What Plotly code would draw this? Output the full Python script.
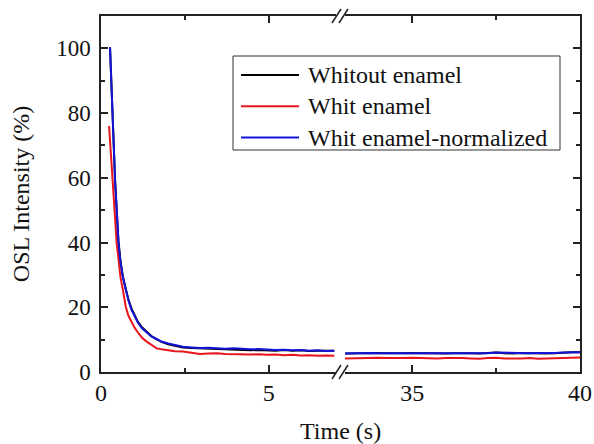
import plotly.graph_objects as go

# ---------------- data ----------------
t_early = [0.24, 0.27, 0.42, 0.47, 0.52, 0.58, 0.65, 0.74, 0.82, 0.91, 1.00, 1.10,
           1.22, 1.36, 1.50, 1.66, 1.80, 2.00, 2.20, 2.44, 2.70, 2.95, 3.20, 3.45,
           3.70, 3.95, 4.20, 4.45, 4.70, 4.95, 5.20, 5.45, 5.70, 5.95, 6.20, 6.45,
           6.70, 6.95]
without_early = [100, 100, 59, 49.5, 40.5, 34.3, 29.6, 25.6, 22.3, 19.6, 17.5, 15.5,
                 13.8, 12.3, 11.1, 10.1, 9.3, 8.6, 8.1, 7.6, 7.4, 7.3, 7.2, 7.0,
                 6.9, 6.8, 6.9, 6.7, 6.8, 6.7, 6.6, 6.8, 6.6, 6.7, 6.5, 6.6,
                 6.5, 6.6]
with_early = [76, 71, 45.5, 39.5, 35, 29.3, 25.5, 20.1, 17.3, 15.3, 13.7, 12.2,
              10.6, 9.4, 8.3, 7.3, 7.0, 6.6, 6.4, 6.3, 6.0, 5.6, 5.7, 5.8,
              5.6, 5.5, 5.6, 5.4, 5.5, 5.3, 5.4, 5.2, 5.3, 5.1, 5.2, 5.0,
              5.1, 5.0]
norm_early = [100, 100, 59, 49, 40, 34, 29.4, 25.4, 22, 19.2, 17.2, 15.2,
              13.5, 12.1, 11.0, 10.2, 9.4, 8.8, 8.3, 7.8, 7.6, 7.4, 7.5, 7.3,
              7.2, 7.3, 7.1, 7.0, 7.1, 6.9, 6.8, 6.9, 6.7, 6.8, 6.6, 6.7,
              6.5, 6.6]

t_late = [33.0, 33.25, 33.5, 33.75, 34.0, 34.25, 34.5, 34.75, 35.0, 35.25, 35.5,
          35.75, 36.0, 36.25, 36.5, 36.75, 37.0, 37.25, 37.5, 37.75, 38.0, 38.25,
          38.5, 38.75, 39.0, 39.25, 39.5, 39.75, 40.0]
without_late = [5.7, 5.8, 5.7, 5.8, 5.9, 5.8, 5.7, 5.8, 5.9, 5.8, 5.9, 5.8, 5.7,
                5.8, 5.9, 5.8, 5.7, 5.8, 6.0, 5.8, 5.7, 5.9, 5.8, 5.9, 5.7, 5.8,
                6.0, 6.1, 6.1]
with_late = [4.2, 4.3, 4.2, 4.3, 4.4, 4.3, 4.2, 4.3, 4.4, 4.3, 4.3, 4.2, 4.3,
             4.4, 4.3, 4.2, 4.1, 4.3, 4.4, 4.2, 4.1, 4.2, 4.3, 4.1, 4.2, 4.3,
             4.4, 4.5, 4.5]
norm_late = [5.7, 5.8, 5.8, 5.9, 5.8, 5.8, 5.9, 5.9, 5.8, 5.8, 5.9, 5.8, 5.7,
             5.8, 5.9, 5.9, 5.8, 5.8, 6.0, 5.9, 5.8, 5.9, 5.8, 5.9, 5.8, 5.9,
             6.0, 6.1, 6.1]

series_names = ["Whitout enamel", "Whit enamel", "Whit enamel-normalized"]
series_colors = ["#000000", "#e8161b", "#1414d8"]

x_ticks_left = [0, 5]
x_ticks_right = [35, 40]
y_ticks = [0, 20, 40, 60, 80, 100]

# ---------------- figure ----------------
W, H = 594, 444
L, R, T, B = 101, 580, 16, 372
FONT = "Liberation Serif, Times New Roman, serif"
AX = "#222222"


def px(x):
    return (x - L) / (R - L)


def py(y):
    return (B - y) / (B - T)


fig = go.Figure()
early = [without_early, with_early, norm_early]
late = [without_late, with_late, norm_late]
for name, col, ye, yl in zip(series_names, series_colors, early, late):
    fig.add_trace(go.Scatter(x=t_early, y=ye, mode="lines", name=name,
                             line=dict(color=col, width=2), showlegend=False,
                             xaxis="x", yaxis="y"))
    fig.add_trace(go.Scatter(x=t_late, y=yl, mode="lines", name=name,
                             line=dict(color=col, width=2), showlegend=False,
                             xaxis="x2", yaxis="y2"))

split = 0.4906
common_x = dict(showline=True, linecolor=AX, linewidth=1.5, mirror="ticks",
                ticks="inside", ticklen=7, tickwidth=1.5, tickcolor=AX,
                showgrid=False, zeroline=False, dtick=5, tick0=0,
                automargin=False,
                minor=dict(ticks="inside", ticklen=4, tickwidth=1.5,
                           tickcolor=AX, dtick=2.5, tick0=0),
                tickfont=dict(family=FONT, size=24, color="#111"),
                ticklabelstandoff=-2)

fig.update_layout(
    width=W, height=H,
    margin=dict(l=L, r=W - R, t=T, b=H - B),
    paper_bgcolor="white", plot_bgcolor="white",
    showlegend=False,
    font=dict(family=FONT, size=23, color="#111"),
    xaxis=dict(domain=[0, split], range=[0, 7], anchor="y",
               tickvals=x_ticks_left, **common_x),
    xaxis2=dict(domain=[1 - split, 1], range=[33, 40], anchor="y2",
                tickvals=x_ticks_right, **common_x),
    yaxis=dict(range=[0, 110], anchor="x", showline=True, linecolor=AX,
               linewidth=1.5, ticks="inside", ticklen=7, tickwidth=1.5,
               tickcolor=AX, tickvals=y_ticks, showgrid=False, zeroline=False,
               automargin=False,
               minor=dict(ticks="inside", ticklen=4, tickwidth=1.5,
                          tickcolor=AX, dtick=10, tick0=0),
               tickfont=dict(family=FONT, size=23, color="#111"),
               ticklabelstandoff=4,
               title=dict(text="OSL Intensity (%)", standoff=20,
                          font=dict(family=FONT, size=24, color="#111"))),
    yaxis2=dict(range=[0, 110], anchor="x2", side="right", showline=True,
                linecolor=AX, linewidth=1.5, ticks="inside", ticklen=7,
                tickwidth=1.5, tickcolor=AX, tickvals=y_ticks,
                showticklabels=False, showgrid=False, zeroline=False,
                automargin=False,
                minor=dict(ticks="inside", ticklen=4, tickwidth=1.5,
                           tickcolor=AX, dtick=10, tick0=0)),
)

# x title centred across both segments
fig.add_annotation(text="Time (s)", xref="paper", yref="paper",
                   x=0.5, y=py(431), xanchor="center", yanchor="middle",
                   showarrow=False, font=dict(family=FONT, size=24, color="#111"))

# axis break marks (//) on bottom and top
for yb in (B, T):
    for x0 in (332, 339):
        fig.add_shape(type="line", xref="paper", yref="paper",
                      x0=px(x0), y0=py(yb + 7), x1=px(x0 + 9), y1=py(yb - 7),
                      line=dict(color=AX, width=1.5))

# legend box
fig.add_shape(type="rect", xref="paper", yref="paper",
              x0=px(233), y0=py(150), x1=px(560), y1=py(56),
              line=dict(color="#333", width=1), fillcolor="white")
for i, (name, col) in enumerate(zip(series_names, series_colors)):
    yy = 75 + i * 31.3
    fig.add_shape(type="line", xref="paper", yref="paper",
                  x0=px(241), x1=px(299), y0=py(yy), y1=py(yy),
                  line=dict(color=col, width=2))
    fig.add_annotation(text=name, xref="paper", yref="paper",
                       x=px(306), y=py(yy), xanchor="left", yanchor="middle",
                       showarrow=False,
                       font=dict(family=FONT, size=24, color="#111"))

fig.write_html("out.html")
